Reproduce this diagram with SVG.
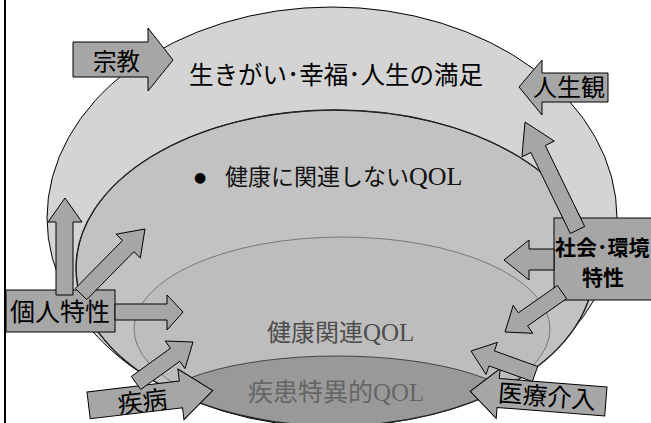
<svg xmlns="http://www.w3.org/2000/svg" width="651" height="423" viewBox="0 0 651 423">
<style>
.jp{font-family:'Noto Sans CJK JP','Noto Sans CJK SC',sans-serif;}
.qol{font-family:'Liberation Serif','Times New Roman',serif;}
.arr{fill:#a6a6a6;stroke:#000;stroke-width:1;stroke-linejoin:miter;}
.box{fill:#a6a6a6;stroke:#000;stroke-width:1;}
</style>
<defs>
<clipPath id="cm"><ellipse cx="335" cy="268" rx="259" ry="158"/></clipPath>
</defs>
<rect x="0" y="0" width="651" height="423" fill="#fff"/>
<rect x="4" y="0" width="2" height="423" fill="#000"/>

<g id="outer">
<path d="M47,218 A285,211 0 0 1 617,218 A285,209 0 0 1 47,218 Z" fill="#d4d4d4" stroke="#000" stroke-width="1"/>
<text class="jp" x="189" y="84" font-size="24.5" fill="#000">生きがい･幸福･人生の満足</text>
</g>

<g id="middle">
<ellipse cx="335" cy="268" rx="259" ry="158" fill="#c2c2c2" stroke="#222" stroke-width="1"/>
<text x="200" y="182" font-size="14" text-anchor="middle" font-family="'DejaVu Sans',sans-serif" fill="#000">●</text>
<text x="225" y="185" font-size="23" fill="#111"><tspan class="jp">健康に関連しない</tspan><tspan class="qol" font-size="26">QOL</tspan></text>
</g>

<g id="inner" clip-path="url(#cm)">
<ellipse cx="342" cy="329" rx="208" ry="92" fill="#bdbdbd" stroke="#666" stroke-width="0.8"/>
<text x="267" y="341" font-size="24" fill="#4d4d4d"><tspan class="jp">健康関連</tspan><tspan class="qol" font-size="25">QOL</tspan></text>
</g>

<g id="innermost" clip-path="url(#cm)">
<ellipse cx="337" cy="416" rx="190" ry="60" fill="#999999" stroke="#444" stroke-width="1"/>
<text x="248" y="401" font-size="25" fill="#666"><tspan class="jp">疾患特異的</tspan><tspan class="qol">QOL</tspan></text>
</g>
<ellipse cx="335" cy="268" rx="259" ry="158" fill="none" stroke="#222" stroke-width="1.3"/>

<g id="shukyo">
<polygon class="arr" points="73,42 148,42 148,28 173,60 148,91 148,77 73,77"/>
<text class="jp" x="93" y="70" font-size="23.5" fill="#000">宗教</text>
</g>

<g id="jinseikan">
<polygon class="arr" points="519,87 542,60 542,73 608,73 608,102 542,102 542,115"/>
<text class="jp" x="533" y="96" font-size="24" fill="#000">人生観</text>
</g>

<g id="kojin">
<rect class="box" x="6" y="290" width="109" height="42"/>
<text class="jp" x="10" y="321" font-size="25" fill="#000">個人特性</text>
</g>

<g id="shakai">
<rect class="box" x="554" y="218" width="100" height="82"/>
<text class="jp" x="555" y="255" font-size="21" font-weight="700" fill="#000">社会･環境</text>
<text class="jp" x="582" y="285" font-size="21" font-weight="700" fill="#000">特性</text>
</g>

<g id="shippei" transform="translate(87,392) rotate(-6.8)">
<polygon class="arr" points="0,0 93,0 93,-12 125,13.5 93,39 93,27 0,27"/>
<text class="jp" x="29" y="25" font-size="25" fill="#000">疾病</text>
</g>

<g id="iryo" transform="translate(607,387) rotate(4.5)">
<polygon class="arr" points="0,0 -108,0 -108,-10 -136,15 -108,40 -108,29 0,29"/>
<text class="jp" x="-108" y="23" font-size="24.5" fill="#000">医療介入</text>
</g>

<g id="connectors">
<polygon class="arr" points="56,295 56,222 48,222 65,198 82,222 73,222 73,295"/>
<polygon class="arr" points="86.7,299.6 133.9,251.7 140.3,258 145,229 116.1,234.2 122.5,240.5 75.3,288.4"/>
<polygon class="arr" points="115,304 167,304 167,295 183,312 167,330 167,320 115,320"/>
<polygon class="arr" points="140.7,389.5 179.8,361.3 185,368.6 193,342 165.2,341 170.4,348.3 131.3,376.5"/>
<polygon class="arr" points="537.7,366.5 494.4,350.9 497.4,342.4 471,351 486,374.4 489,365.9 532.3,381.5"/>
<polygon class="arr" points="584.7,226.5 545.3,145.5 554.3,141.1 525,122 521.9,156.9 530.9,152.5 570.3,233.5"/>
<polygon class="arr" points="554,249 529,249 529,240 504,260 529,280 529,270 554,270"/>
<polygon class="arr" points="557.4,285.5 518.4,312.8 513.2,305.4 505,332 532.8,333.3 527.6,325.9 566.6,298.6"/>
</g>
</svg>
